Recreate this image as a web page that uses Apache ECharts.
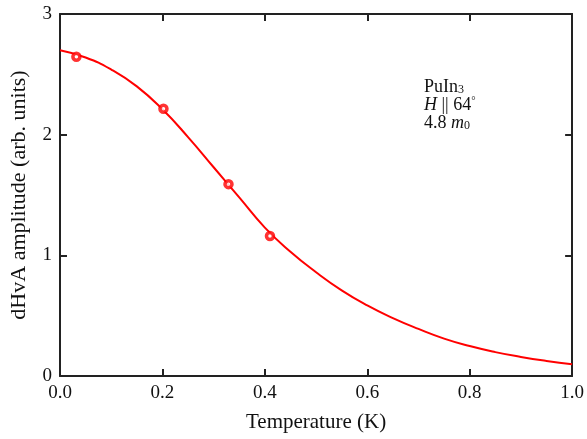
<!DOCTYPE html>
<html>
<head>
<meta charset="utf-8">
<script src="https://cdn.jsdelivr.net/npm/echarts@6/dist/echarts.min.js"></script>
<style>
  html, body { margin: 0; padding: 0; background: #fff; }
  #chart { width: 587px; height: 439px; }
</style>
</head>
<body>
<div id="chart"></div>
<script>
// fit curve
var curveT = [0, 0.05, 0.1, 0.15, 0.2, 0.25, 0.3, 0.35, 0.4, 0.45, 0.5, 0.55, 0.6, 0.65, 0.7, 0.75, 0.8, 0.85, 0.9, 0.95, 1.0];
var curveA = [2.70, 2.64, 2.54, 2.40, 2.21, 1.98, 1.73, 1.48, 1.23, 1.03, 0.86, 0.71, 0.585, 0.48, 0.39, 0.31, 0.248, 0.198, 0.158, 0.125, 0.098];

// measured points
var pointT = [0.032, 0.202, 0.329, 0.41];
var pointA = [2.645, 2.215, 1.59, 1.16];

var xTicks = [0, 0.2, 0.4, 0.6, 0.8, 1.0];
var yTicks = [0, 1, 2, 3];

var serif = 'Liberation Serif';
var axisColor = '#222';

function zip(a, b) {
  var out = [];
  for (var i = 0; i < a.length; i++) out.push([a[i], b[i]]);
  return out;
}

var chart = echarts.init(document.getElementById('chart'));

function baseX(pos, showLabel) {
  return {
    type: 'value',
    position: pos,
    min: xTicks[0],
    max: xTicks[xTicks.length - 1],
    interval: 0.2,
    axisLine: { show: true, onZero: false, lineStyle: { color: axisColor, width: 2 } },
    axisTick: { show: true, inside: true, length: 7, lineStyle: { color: axisColor, width: 2 } },
    splitLine: { show: false },
    axisLabel: {
      show: showLabel,
      color: '#111',
      fontFamily: serif,
      fontSize: 19,
      margin: 8,
      formatter: function (v) { return v.toFixed(1); }
    }
  };
}

function baseY(pos, showLabel) {
  return {
    type: 'value',
    position: pos,
    min: yTicks[0],
    max: yTicks[yTicks.length - 1],
    interval: 1,
    axisLine: { show: true, onZero: false, lineStyle: { color: axisColor, width: 2 } },
    axisTick: { show: true, inside: true, length: 7, lineStyle: { color: axisColor, width: 2 } },
    splitLine: { show: false },
    axisLabel: {
      show: showLabel,
      color: '#111',
      fontFamily: serif,
      fontSize: 19,
      margin: 8
    }
  };
}

var xBottom = baseX('bottom', true);
xBottom.name = 'Temperature (K)';
xBottom.nameLocation = 'middle';
xBottom.nameGap = 36;
xBottom.nameTextStyle = { fontFamily: serif, fontSize: 21, color: '#111' };

var yLeft = baseY('left', true);
yLeft.name = 'dHvA amplitude (arb. units)';
yLeft.nameLocation = 'middle';
yLeft.nameGap = 30;
yLeft.nameTextStyle = { fontFamily: serif, fontSize: 22, color: '#111' };

var option = {
  backgroundColor: '#fff',
  animation: false,
  grid: { left: 59, right: 10, top: 14, bottom: 63, containLabel: false },
  xAxis: [xBottom, baseX('top', false)],
  yAxis: [yLeft, baseY('right', false)],
  graphic: [
    {
      type: 'text', left: 424, top: 75,
      style: {
        text: '{n|PuIn}{s|3}\n{i|H} {n|||} {n|64}{s2|°}\n{n|4.8 }{i|m}{s|0}',
        font: '18px ' + serif,
        fill: '#111',
        rich: {
          n: { fontFamily: serif, fontSize: 18, lineHeight: 18, fill: '#111' },
          i: { fontFamily: serif, fontSize: 18, fontStyle: 'italic', lineHeight: 18, fill: '#111' },
          s: { fontFamily: serif, fontSize: 12, lineHeight: 18, padding: [9, 0, 0, 0], verticalAlign: 'bottom', fill: '#111' },
          s2: { fontFamily: serif, fontSize: 11, lineHeight: 18, verticalAlign: 'top', fill: '#111' }
        }
      }
    }
  ],
  series: [
    {
      type: 'line',
      data: zip(curveT, curveA),
      smooth: true,
      showSymbol: false,
      lineStyle: { color: '#ff0000', width: 2 },
      z: 2
    },
    {
      type: 'scatter',
      data: zip(pointT, pointA),
      symbol: 'circle',
      symbolSize: 7,
      itemStyle: { color: '#fff', borderColor: '#ff0000', borderWidth: 3.5 },
      z: 3
    }
  ]
};

chart.setOption(option);
</script>
</body>
</html>
